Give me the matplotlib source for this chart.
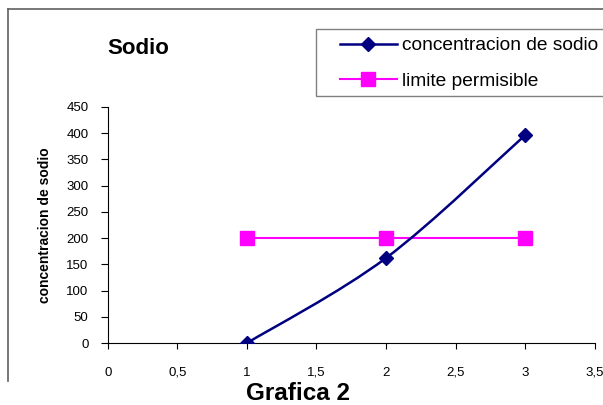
import matplotlib
matplotlib.use('Agg')
import matplotlib.pyplot as plt
from matplotlib.path import Path
from matplotlib.patches import PathPatch, Rectangle
from matplotlib.lines import Line2D

# datos
muestras = [1, 2, 3]
concentracion = [0, 162, 396]
limite = [200, 200, 200]
x_ticks = [0, 0.5, 1, 1.5, 2, 2.5, 3, 3.5]
x_tick_labels = ['0', '0,5', '1', '1,5', '2', '2,5', '3', '3,5']
y_ticks = [0, 50, 100, 150, 200, 250, 300, 350, 400, 450]

plt.rcParams['font.family'] = ['Liberation Sans', 'DejaVu Sans']

azul = '#000080'
rosa = '#FF00FF'


def linea_suave(xs, ys):
    """ curva bezier tipo excel (linea suavizada) entre los puntos """
    pts = list(zip(xs, ys))
    n = len(pts)
    verts = [pts[0]]
    codes = [Path.MOVETO]
    for i in range(n - 1):
        p0 = pts[max(i - 1, 0)]
        p1 = pts[i]
        p2 = pts[i + 1]
        p3 = pts[min(i + 2, n - 1)]
        c1 = (p1[0] + (p2[0] - p0[0]) / 6, p1[1] + (p2[1] - p0[1]) / 6)
        c2 = (p2[0] - (p3[0] - p1[0]) / 6, p2[1] - (p3[1] - p1[1]) / 6)
        verts += [c1, c2, p2]
        codes += [Path.CURVE4] * 3
    return Path(verts, codes)


fig = plt.figure(figsize=(6.03, 4.05), dpi=100)
ax = fig.add_axes([0.179, 0.153, 0.807, 0.583])

# marco del area del grafico
fig.add_artist(Line2D([8 / 603, 1.0], [1 - 9 / 405, 1 - 9 / 405],
                      transform=fig.transFigure, color='#606060', lw=1.2))
fig.add_artist(Line2D([8 / 603, 8 / 603], [1 - 9 / 405, 1 - 381 / 405],
                      transform=fig.transFigure, color='#606060', lw=1.2))

ax.plot(muestras, limite, color=rosa, lw=1.5, marker='s', ms=10,
        markeredgecolor=rosa, zorder=3)
ax.add_patch(PathPatch(linea_suave(muestras, concentracion), fill=False,
                       edgecolor=azul, lw=1.8, zorder=4))
ax.plot(muestras, concentracion, ls='none', marker='D', ms=7,
        color=azul, zorder=5)

ax.set_xlim(0, 3.5)
ax.set_ylim(0, 450)
ax.set_xticks(x_ticks)
ax.set_xticklabels(x_tick_labels)
ax.set_yticks(y_ticks)
ax.tick_params(axis='x', direction='out', length=4, pad=13, labelsize=9.5)
ax.tick_params(axis='y', direction='out', length=5, pad=9, labelsize=9.5)
ax.spines['top'].set_visible(False)
ax.spines['right'].set_visible(False)

ax.set_ylabel('concentracion de sodio', fontsize=10, fontweight='bold',
              labelpad=10)

fig.text(138 / 603, 1 - 48 / 405, 'Sodio', fontsize=16, fontweight='bold',
         ha='center', va='center')
fig.text(298 / 603, 1 - 394 / 405, 'Grafica 2', fontsize=17.5,
         fontweight='bold', ha='center', va='center')

# recuadro de la leyenda (se sale por la derecha como en la original)
fig.add_artist(Rectangle((316 / 603, 1 - 96 / 405), 310 / 603, 67 / 405,
                         transform=fig.transFigure, fill=False,
                         edgecolor='#808080', lw=1.0))

handles = [
    Line2D([], [], color=azul, lw=1.8, marker='D', ms=7),
    Line2D([], [], color=rosa, lw=1.5, marker='s', ms=10),
]
leg = fig.legend(handles, ['concentracion de sodio', 'limite permisible'],
                 loc='upper left', bbox_to_anchor=(340 / 603, 1 - 37 / 405),
                 fontsize=13.8, frameon=False, handlelength=2.95,
                 handletextpad=0.3, labelspacing=0.95, borderpad=0,
                 borderaxespad=0)

fig.savefig('out.png', dpi=100)
